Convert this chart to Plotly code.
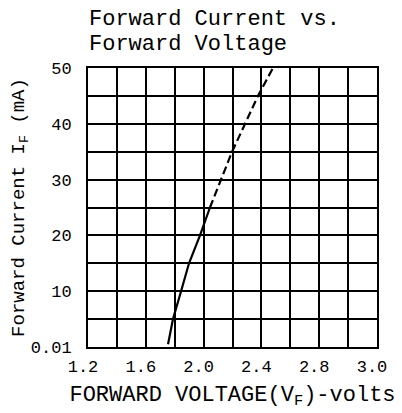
import plotly.graph_objects as go

# Data (forward current in mA vs forward voltage in V)
current_solid = [0.5, 5, 10, 15, 20, 25]
voltage_solid = [1.754, 1.788, 1.844, 1.899, 1.975, 2.044]
current_dashed = [25, 30, 35, 40, 45, 50]
voltage_dashed = [2.044, 2.120, 2.197, 2.287, 2.376, 2.480]

x_tick_vals = [1.2, 1.6, 2.0, 2.4, 2.8, 3.2]
x_tick_text = ["1.2", "1.6", "2.0", "2.4", "2.8", "3.0"]
y_tick_vals = [0, 10, 20, 30, 40, 50]
y_tick_text = ["0.01", "10", "20", "30", "40", "50"]
title_lines = ["Forward Current vs.", "Forward Voltage"]

FONT = "Liberation Mono"
# the page body has an 8px margin, so the figure is sized to fit inside it
W, H = 394, 405
ML, MR, MT, MB = 80, 25, 60, 66
PLOT_H = H - MT - MB

fig = go.Figure()
fig.add_trace(go.Scatter(x=voltage_solid, y=current_solid, mode="lines",
                         line=dict(color="black", width=2.2), showlegend=False))
fig.add_trace(go.Scatter(x=voltage_dashed, y=current_dashed, mode="lines",
                         line=dict(color="black", width=2.2, dash="8px,4px"), showlegend=False))

grid = dict(showgrid=True, gridcolor="black", gridwidth=1.5)

title_px = [11, 36]  # vertical centre of each title line, figure pixels from top
annotations = [dict(text=t, xref="paper", x=-0.005, xanchor="left",
                    yref="paper", y=1 + (MT - py) / PLOT_H, yanchor="middle",
                    showarrow=False, font=dict(family=FONT, size=22, color="black"))
               for t, py in zip(title_lines, title_px)]

fig.update_layout(
    width=W, height=H,
    margin=dict(l=ML, r=MR, t=MT, b=MB),
    paper_bgcolor="white", plot_bgcolor="white",
    font=dict(family=FONT, color="black"),
    annotations=annotations,
    xaxis=dict(range=[1.2, 3.2], tickvals=x_tick_vals, ticktext=x_tick_text,
               **grid, minor=dict(dtick=0.2, tick0=1.2, **grid),
               showline=True, linecolor="black", linewidth=2, mirror=True,
               ticks="", zeroline=False, tickfont=dict(size=17),
               ticklabelshift=-5, ticklabelstandoff=3, automargin=False,
               title=dict(text="FORWARD VOLTAGE(V<sub>F</sub>)-volts",
                          font=dict(size=22), standoff=9)),
    yaxis=dict(range=[0, 50], tickvals=y_tick_vals, ticktext=y_tick_text,
               **grid, minor=dict(dtick=5, tick0=0, **grid),
               showline=True, linecolor="black", linewidth=2, mirror=True,
               ticks="", zeroline=False, tickfont=dict(size=17),
               ticklabelstandoff=11, automargin=False,
               title=dict(text="Forward Current I<sub>F</sub> (mA)",
                          font=dict(size=19), standoff=36)),
)

fig.write_html("out.html")
